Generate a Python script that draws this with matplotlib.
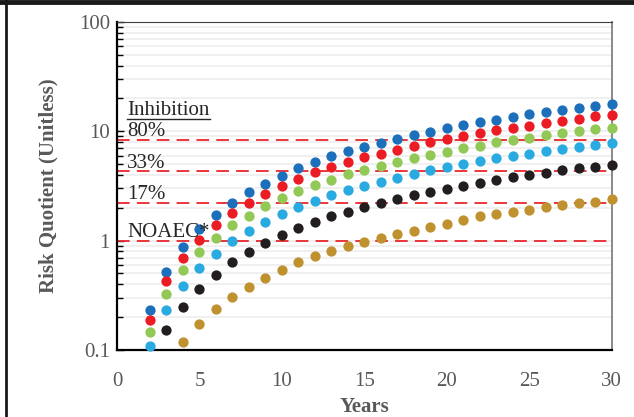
import matplotlib
matplotlib.use("Agg")
import matplotlib.pyplot as plt
from matplotlib.lines import Line2D

# Risk quotient per year for each exposure scenario
years_a = list(range(2, 31))
years_b = list(range(3, 31))
years_c = list(range(4, 31))

rq_blue = [0.23, 0.52, 0.87, 1.28, 1.73, 2.22, 2.78, 3.30, 3.94, 4.59, 5.28, 5.96, 6.62, 7.25,
           7.88, 8.52, 9.33, 9.94, 10.7, 11.5, 12.1, 12.8, 13.6, 14.4, 15.0, 15.8, 16.4, 17.1, 17.8]
rq_red = [0.189, 0.425, 0.698, 1.02, 1.38, 1.79, 2.21, 2.67, 3.19, 3.69, 4.25, 4.72, 5.28, 5.78,
          6.25, 6.76, 7.4, 8.0, 8.52, 9.14, 9.67, 10.2, 10.7, 11.3, 12.0, 12.5, 13.1, 13.8, 14.2]
rq_green = [0.145, 0.325, 0.539, 0.788, 1.065, 1.38, 1.69, 2.06, 2.44, 2.85, 3.23, 3.61, 4.04, 4.43,
            4.78, 5.2, 5.71, 6.12, 6.52, 7.0, 7.4, 7.94, 8.34, 8.75, 9.19, 9.67, 10.1, 10.4, 10.8]
rq_lightblue = [0.108, 0.234, 0.388, 0.566, 0.76, 0.986, 1.22, 1.47, 1.77, 2.05, 2.32, 2.60, 2.91, 3.19,
                3.47, 3.75, 4.10, 4.40, 4.72, 5.06, 5.36, 5.66, 5.96, 6.25, 6.62, 6.9, 7.2, 7.5, 7.77]
rq_black = [0.151, 0.249, 0.361, 0.489, 0.633, 0.788, 0.945, 1.13, 1.30, 1.48, 1.67, 1.84, 2.03, 2.21,
            2.41, 2.62, 2.81, 2.97, 3.19, 3.34, 3.59, 3.79, 3.99, 4.16, 4.43, 4.59, 4.75, 4.96]
rq_gold = [0.118, 0.173, 0.235, 0.303, 0.374, 0.452, 0.539, 0.638, 0.719, 0.798, 0.887, 0.965, 1.06, 1.14,
           1.23, 1.34, 1.43, 1.55, 1.68, 1.74, 1.81, 1.92, 2.03, 2.14, 2.21, 2.27, 2.41]

# inhibition thresholds
thresholds = [8.4, 4.3, 2.2, 1.0]
threshold_labels = ["80%", "33%", "17%", "NOAEC*"]

plt.rcParams['font.family'] = ['Liberation Serif', 'DejaVu Serif']

fig = plt.figure(figsize=(6.34, 4.17), dpi=100)
ax = fig.add_axes([0.1845, 0.161, 0.7805, 0.786])

ax.set_yscale('log')
ax.set_ylim(0.1, 100)
ax.set_xlim(0, 30)

ax.grid(True, which='both', axis='y', color='#efefef', linewidth=1.3)
ax.set_axisbelow(True)

for y in thresholds:
    ax.axhline(y, color='#e8262b', linewidth=1.3, dashes=(7, 4), zorder=2)

series = [
    (years_a, rq_blue, '#1c6fbb'),
    (years_a, rq_red, '#ec1c24'),
    (years_a, rq_green, '#92c856'),
    (years_a, rq_lightblue, '#29abe2'),
    (years_b, rq_black, '#221e1f'),
    (years_c, rq_gold, '#c0912f'),
]
for xs, ys, col in series:
    ax.plot(xs, ys, 'o', color=col, markersize=7.4, markeredgewidth=0, zorder=3, clip_on=False)

# threshold labels
txt_color = '#262626'
inh = ax.text(0.62, 14.0, "Inhibition", fontsize=15, color=txt_color, ha='left', va='baseline')
label_y = [9.0, 4.6, 2.4, 1.09]
for lab, yy in zip(threshold_labels, label_y):
    ax.text(0.62, yy, lab, fontsize=15, color=txt_color, ha='left', va='baseline')

ax.set_xticks([0, 5, 10, 15, 20, 25, 30])
ax.set_yticks([0.1, 1, 10, 100])
ax.set_yticklabels(['0.1', '1', '10', '100'])
ax.tick_params(axis='x', length=0, pad=16, labelsize=15, labelcolor='#595959')
ax.tick_params(axis='y', which='major', direction='in', length=5, width=1, pad=5,
               labelsize=15, labelcolor='#595959')
ax.tick_params(axis='y', which='minor', direction='in', length=4, width=1)

ax.set_xlabel("Years", fontsize=15, fontweight='bold', color='#595959', labelpad=4)
ax.set_ylabel("Risk Quotient (Unitless)", fontsize=15, fontweight='bold', color='#595959', labelpad=15)

ax.spines['left'].set_linewidth(1.6)
ax.spines['bottom'].set_linewidth(1.6)
ax.spines['top'].set_color('#404040')
ax.spines['right'].set_color('#808080')
ax.spines['right'].set_linewidth(1.3)

# underline "Inhibition"
fig.canvas.draw()
bb = inh.get_window_extent().transformed(fig.transFigure.inverted())
fig.add_artist(Line2D([bb.x0, bb.x1], [bb.y0 + 0.004, bb.y0 + 0.004], color=txt_color, linewidth=1))

# outer frame fragments
fig.add_artist(Line2D([0, 1], [0.996, 0.996], color='#1a1a1a', linewidth=3.5))
fig.add_artist(Line2D([0.0095, 0.0095], [0, 1], color='#1a1a1a', linewidth=2))

fig.savefig("out.png", dpi=100)
